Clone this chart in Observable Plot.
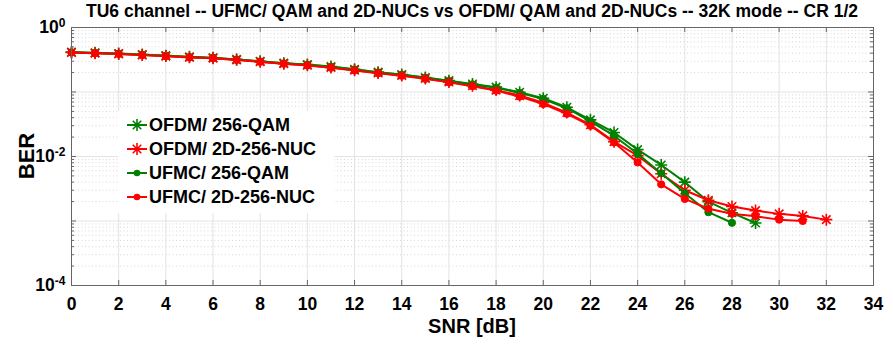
<!DOCTYPE html>
<html><head><meta charset="utf-8">
<script src="https://cdn.jsdelivr.net/npm/d3@7"></script>
<script src="https://cdn.jsdelivr.net/npm/@observablehq/plot@0.6"></script>
<style>
body{margin:0;background:#fff;}
#wrap{position:relative;width:893px;height:345px;font-family:"Liberation Sans",Arial,sans-serif;color:#000;overflow:hidden;}
#wrap > svg{position:absolute;left:0;top:0;}
.ov{position:absolute;font-weight:bold;white-space:nowrap;}
#title{left:71px;width:802px;top:1px;text-align:center;font-size:17.5px;}
#xlab{left:71px;width:802px;top:315px;text-align:center;font-size:20px;}
#ylab{left:27px;top:156px;font-size:22px;transform:translate(-50%,-50%) rotate(-90deg);}
#legend{left:118px;top:111px;width:216px;height:102px;background:#fff;}
.li{position:absolute;left:8px;height:24px;display:flex;align-items:center;font-size:18px;}
#wrap .li svg{position:static;margin-right:1px;flex:none;}
</style></head><body><div id="wrap"></div>
<script>
// ---- data ----
const seriesNames = ["OFDM/ 256-QAM", "OFDM/ 2D-256-NUC", "UFMC/ 256-QAM", "UFMC/ 2D-256-NUC"];
const seriesColors = ["#008000", "#ff0000", "#008000", "#ff0000"];
const seriesMarkers = ["star", "star", "dot", "dot"];

const snrOfdmQam = [0,1,2,3,4,5,6,7,8,9,10,11,12,13,14,15,16,17,18,19,20,21,22,23,24,25,26,27,28,29];
const berOfdmQam = [0.415,0.405,0.395,0.38,0.366,0.351,0.340,0.320,0.300,0.280,0.266,0.248,0.225,0.203,0.187,0.168,0.150,0.133,0.119,0.099,0.080,0.058,0.037,0.0236,0.0128,0.0074,0.0040,0.0020,0.00134,0.00093];

const snrOfdmNuc = [0,1,2,3,4,5,6,7,8,9,10,11,12,13,14,15,16,17,18,19,20,21,22,23,24,25,26,27,28,29,30,31,32];
const berOfdmNuc = [0.41,0.40,0.39,0.375,0.36,0.345,0.335,0.315,0.295,0.275,0.26,0.24,0.218,0.197,0.18,0.162,0.143,0.125,0.107,0.088,0.068,0.048,0.031,0.017,0.0103,0.0054,0.0030,0.0021,0.00168,0.00145,0.00129,0.0012,0.00105];

const snrUfmcQam = [0,1,2,3,4,5,6,7,8,9,10,11,12,13,14,15,16,17,18,19,20,21,22,23,24,25,26,27,28];
const berUfmcQam = [0.413,0.403,0.393,0.378,0.364,0.349,0.338,0.318,0.298,0.278,0.264,0.246,0.223,0.201,0.185,0.166,0.148,0.131,0.116,0.097,0.078,0.056,0.035,0.021,0.011,0.0055,0.0027,0.00137,0.00094];

const snrUfmcNuc = [0,1,2,3,4,5,6,7,8,9,10,11,12,13,14,15,16,17,18,19,20,21,22,23,24,25,26,27,28,29,30,31];
const berUfmcNuc = [0.408,0.398,0.388,0.373,0.358,0.343,0.333,0.313,0.293,0.273,0.258,0.238,0.216,0.195,0.178,0.160,0.141,0.123,0.105,0.085,0.065,0.046,0.030,0.0165,0.0081,0.0037,0.0022,0.00155,0.0013,0.00118,0.00105,0.0010];

const xTicks = [0,2,4,6,8,10,12,14,16,18,20,22,24,26,28,30,32,34];
const yTickLabels = [1, 0.01, 0.0001];
const yExponents = ["0", "-2", "-4"];
const titleText = "TU6 channel -- UFMC/ QAM and 2D-NUCs vs OFDM/ QAM and 2D-NUCs -- 32K mode -- CR 1/2";
const xLabelText = "SNR [dB]";
const yLabelText = "BER";

// ---- build ----
const seriesX = [snrOfdmQam, snrOfdmNuc, snrUfmcQam, snrUfmcNuc];
const seriesY = [berOfdmQam, berOfdmNuc, berUfmcQam, berUfmcNuc];
const tables = seriesX.map((xs, i) => xs.map((x, j) => ({x, y: seriesY[i][j]})));

const star8 = {
  draw(ctx, size) {
    const r = Math.sqrt(size / Math.PI);
    const d = r * Math.SQRT1_2;
    ctx.moveTo(-r, 0); ctx.lineTo(r, 0);
    ctx.moveTo(0, -r); ctx.lineTo(0, r);
    ctx.moveTo(-d, -d); ctx.lineTo(d, d);
    ctx.moveTo(-d, d); ctx.lineTo(d, -d);
  }
};

const W = 893, H = 345, mL = 71, mR = 20, mT = 27, mB = 60;
const pw = W - mL - mR, ph = H - mT - mB;

const decades = [1e-4, 1e-3, 1e-2, 1e-1, 1];
const minors = [];
for (const dcd of [1e-4, 1e-3, 1e-2, 1e-1]) for (let k = 2; k <= 9; k++) minors.push(+(k * dcd).toPrecision(3));
const xGrid = xTicks.filter(v => v > 0 && v < 34);
const yGrid = decades.filter(v => v > 1e-4 && v < 1);

const marks = [
  Plot.ruleY(minors, {y: d => d, stroke: "#d6d6d6", strokeWidth: 1, strokeDasharray: "1,2.5"}),
  Plot.ruleX(xGrid, {x: d => d, stroke: "#e3e3e3", strokeWidth: 1}),
  Plot.ruleY(yGrid, {y: d => d, stroke: "#e3e3e3", strokeWidth: 1}),
  // ticks (inside)
  Plot.ruleX(xTicks, {x: d => d, insetTop: ph - 5, stroke: "#666"}),
  Plot.ruleX(xTicks, {x: d => d, insetBottom: ph - 5, stroke: "#666"}),
  Plot.ruleY(decades, {y: d => d, insetRight: pw - 5, stroke: "#666"}),
  Plot.ruleY(decades, {y: d => d, insetLeft: pw - 5, stroke: "#666"}),
  Plot.ruleY(minors, {y: d => d, insetRight: pw - 3, stroke: "#666"}),
  Plot.ruleY(minors, {y: d => d, insetLeft: pw - 3, stroke: "#666"}),
];
tables.forEach((t, i) => {
  marks.push(Plot.line(t, {x: "x", y: "y", stroke: seriesColors[i], strokeWidth: 2}));
  if (seriesMarkers[i] === "star") {
    marks.push(Plot.dot(t, {x: "x", y: "y", symbol: star8, r: 6, stroke: seriesColors[i], strokeWidth: 1.6, fill: "none"}));
  } else {
    marks.push(Plot.dot(t, {x: "x", y: "y", r: 3.6, fill: seriesColors[i], stroke: seriesColors[i], strokeWidth: 1}));
  }
});
marks.push(Plot.frame({stroke: "#666", strokeWidth: 1}));
marks.push(Plot.axisX(xTicks, {tickSize: 0, tickPadding: 12, fontSize: 17.5, fontWeight: "bold", label: null}));
marks.push(Plot.axisY(yTickLabels, {tickSize: 0, tickPadding: 6, fontSize: 17.5, fontWeight: "bold", label: null,
  tickFormat: d => "10|" + yExponents[yTickLabels.indexOf(d)]}));

const svg = Plot.plot({
  width: W, height: H,
  marginLeft: mL, marginRight: mR, marginTop: mT, marginBottom: mB,
  x: {domain: [0, 34]},
  y: {type: "log", domain: [1e-4, 1]},
  style: {fontFamily: '"Liberation Sans", Arial, sans-serif', color: "#000", background: "#fff", overflow: "visible"},
  marks
});

// superscript exponents on y tick labels
d3.select(svg).selectAll('g[aria-label="y-axis tick label"] text').each(function() {
  const t = this.textContent;
  if (!t.includes("|")) return;
  const [base, exp] = t.split("|");
  const sel = d3.select(this);
  sel.text(null);
  sel.append("tspan").text(base);
  sel.append("tspan").attr("dy", "-0.55em").attr("font-size", "12px").text(exp);
});

const wrap = document.getElementById("wrap");
wrap.appendChild(svg);

function addDiv(id, text) {
  const el = document.createElement("div");
  el.id = id; el.className = "ov"; el.textContent = text;
  wrap.appendChild(el);
  return el;
}
addDiv("title", titleText);
addDiv("xlab", xLabelText);
addDiv("ylab", yLabelText);

// legend
const leg = document.createElement("div");
leg.id = "legend"; leg.className = "ov";
wrap.appendChild(leg);
const rowTops = [2, 26, 50, 74];
seriesNames.forEach((name, i) => {
  const row = document.createElement("div");
  row.className = "li";
  row.style.top = rowTops[i] + "px";
  const s = d3.create("svg").attr("width", 22).attr("height", 20);
  s.append("line").attr("x1", 1).attr("x2", 21).attr("y1", 10).attr("y2", 10)
    .attr("stroke", seriesColors[i]).attr("stroke-width", 2);
  if (seriesMarkers[i] === "star") {
    const p = d3.path(); star8.draw(p, Math.PI * 36);
    s.append("path").attr("d", p.toString()).attr("transform", "translate(11,10)")
      .attr("stroke", seriesColors[i]).attr("stroke-width", 1.6).attr("fill", "none");
  } else {
    s.append("circle").attr("cx", 11).attr("cy", 10).attr("r", 3.3).attr("fill", seriesColors[i]);
  }
  row.appendChild(s.node());
  const sp = document.createElement("span");
  sp.textContent = name;
  row.appendChild(sp);
  leg.appendChild(row);
});
</script></body></html>
